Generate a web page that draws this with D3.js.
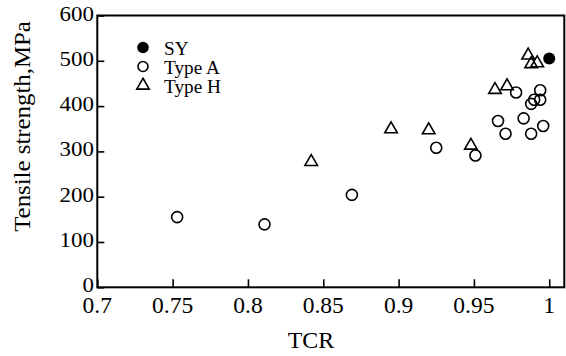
<!DOCTYPE html>
<html><head><meta charset="utf-8">
<script src="https://cdn.jsdelivr.net/npm/d3@7"></script>
<style>body{margin:0;background:#fff}svg{display:block}text{font-family:"Liberation Serif","Times New Roman",serif;fill:#000}</style>
</head><body>
<script>
const xTicks = [0.7, 0.75, 0.8, 0.85, 0.9, 0.95, 1];
const yTicks = [0, 100, 200, 300, 400, 500, 600];
const xLabels = ["0.7", "0.75", "0.8", "0.85", "0.9", "0.95", "1"];
const yLabels = ["0", "100", "200", "300", "400", "500", "600"];

const syTCR = [1.0];
const syTS = [505];

const typeATCR = [0.753, 0.811, 0.869, 0.925, 0.951, 0.966, 0.971, 0.978, 0.983, 0.988, 0.988, 0.990, 0.994, 0.994, 0.996];
const typeATS  = [155, 139, 204, 308, 291, 367, 339, 430, 373, 339, 405, 414, 435, 414, 356];

const typeHTCR = [0.842, 0.895, 0.920, 0.948, 0.964, 0.972, 0.986, 0.988, 0.992];
const typeHTS  = [277, 349, 347, 313, 436, 444, 512, 493, 495];

const legendNames = ["SY", "Type A", "Type H"];
const xTitle = "TCR";
const yTitle = "Tensile strength,MPa";

const W = 566, H = 356;
const svg = d3.select("body").append("svg").attr("width", W).attr("height", H);

const x = d3.scaleLinear().domain([0.7, 1.01]).range([97.3, 564.3]);
const y = d3.scaleLinear().domain([0, 600]).range([287.3, 15.5]);

// frame
svg.append("rect").attr("x", x(0.7)).attr("y", y(600))
  .attr("width", x(1.01) - x(0.7)).attr("height", y(0) - y(600))
  .attr("fill", "none").attr("stroke", "#000").attr("stroke-width", 2);

// axes with inward ticks
svg.append("g").attr("transform", `translate(0,${y(0)})`)
  .call(d3.axisBottom(x).tickValues(xTicks).tickSize(-8).tickFormat("").tickSizeOuter(0))
  .call(g => { g.select(".domain").remove(); g.selectAll("line").attr("stroke-width", 1.6); });
svg.append("g").attr("transform", `translate(${x(0.7)},0)`)
  .call(d3.axisLeft(y).tickValues(yTicks).tickSize(-7).tickFormat("").tickSizeOuter(0))
  .call(g => { g.select(".domain").remove(); g.selectAll("line").attr("stroke-width", 1.6); });

// tick labels
svg.append("g").selectAll("text").data(xTicks).join("text")
  .attr("x", d => x(d)).attr("y", 313).attr("text-anchor", "middle")
  .attr("font-size", 23.5).text((d, i) => xLabels[i]);
svg.append("g").selectAll("text").data(yTicks).join("text")
  .attr("transform", d => `translate(94,${y(d) + 5}) scale(1.12,1)`)
  .attr("text-anchor", "end").attr("font-size", 20.5).text((d, i) => yLabels[i]);

// titles
svg.append("text").attr("transform", "translate(311,348) scale(1.04,1)")
  .attr("text-anchor", "middle").attr("font-size", 23).text(xTitle);
svg.append("text").attr("transform", "translate(30,126.5) rotate(-90) scale(1.08,1)")
  .attr("text-anchor", "middle").attr("font-size", 23).text(yTitle);

const tri = d3.symbol().type(d3.symbolTriangle).size(68);

// data
const typeA = typeATCR.map((t, i) => ({t, v: typeATS[i]}));
const typeH = typeHTCR.map((t, i) => ({t, v: typeHTS[i]}));
const sy = syTCR.map((t, i) => ({t, v: syTS[i]}));

svg.append("g").selectAll("path").data(typeH).join("path")
  .attr("d", tri).attr("transform", d => `translate(${x(d.t)},${y(d.v)})`)
  .attr("fill", "#fff").attr("fill-opacity", 0).attr("stroke", "#000").attr("stroke-width", 1.6);
svg.append("g").selectAll("circle").data(typeA).join("circle")
  .attr("cx", d => x(d.t)).attr("cy", d => y(d.v)).attr("r", 5.5)
  .attr("fill", "none").attr("stroke", "#000").attr("stroke-width", 1.6);
svg.append("g").selectAll("circle").data(sy).join("circle")
  .attr("cx", d => x(d.t)).attr("cy", d => y(d.v)).attr("r", 6)
  .attr("fill", "#000");

// legend
const lg = svg.append("g");
const lx = 143, ly = [47.5, 66.5, 85.5];
lg.append("circle").attr("cx", lx).attr("cy", ly[0]).attr("r", 5.8).attr("fill", "#000");
lg.append("circle").attr("cx", lx).attr("cy", ly[1]).attr("r", 5).attr("fill", "none").attr("stroke", "#000").attr("stroke-width", 1.6);
lg.append("path").attr("d", tri).attr("transform", `translate(${lx},${ly[2]})`).attr("fill", "none").attr("stroke", "#000").attr("stroke-width", 1.6);
lg.selectAll("text").data(legendNames).join("text")
  .attr("transform", (d, i) => `translate(164,${ly[i] + 7}) scale(1.07,1)`)
  .attr("font-size", 18).text(d => d);
</script>
</body></html>
